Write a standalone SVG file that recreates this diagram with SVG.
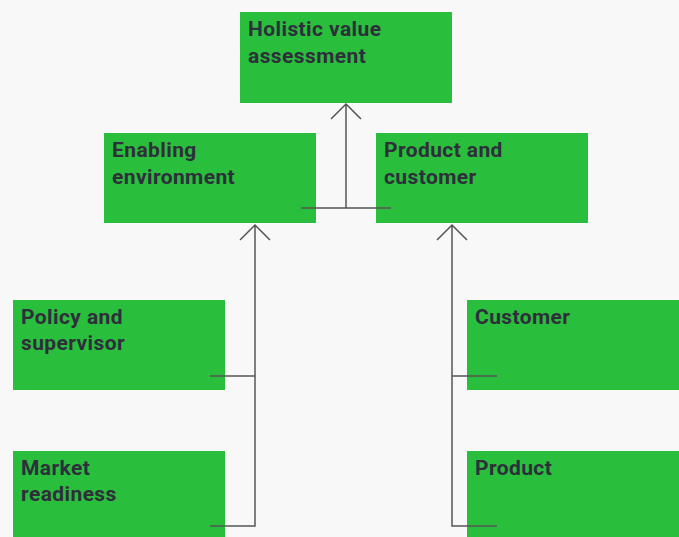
<svg xmlns="http://www.w3.org/2000/svg" width="679" height="537" viewBox="0 0 679 537">
<style>
.box{fill:#29be3c}
.t{font-family:Roboto,"Liberation Sans",sans-serif;font-weight:bold;font-size:21px;letter-spacing:0.4px;fill:#2f2f3b}
.c{stroke:#555;stroke-width:1.5;fill:none}
</style>
<rect width="679" height="537" fill="#f8f8f8"/>
<g id="holistic"><rect class="box" x="240" y="12" width="212" height="91"/><text class="t" x="248" y="36">Holistic value</text><text class="t" x="248" y="63">assessment</text></g>
<g id="enabling"><rect class="box" x="104" y="133" width="212" height="90"/><text class="t" x="112" y="157">Enabling</text><text class="t" x="112" y="184">environment</text></g>
<g id="productcustomer"><rect class="box" x="376" y="133" width="212" height="90"/><text class="t" x="384" y="157">Product and</text><text class="t" x="384" y="184">customer</text></g>
<g id="policy"><rect class="box" x="13" y="300" width="212" height="90"/><text class="t" x="21" y="324">Policy and</text><text class="t" x="21" y="350">supervisor</text></g>
<g id="market"><rect class="box" x="13" y="451" width="212" height="90"/><text class="t" x="21" y="475">Market</text><text class="t" x="21" y="501">readiness</text></g>
<g id="customer"><rect class="box" x="467" y="300" width="212" height="90"/><text class="t" x="475" y="324">Customer</text></g>
<g id="product"><rect class="box" x="467" y="451" width="212" height="90"/><text class="t" x="475" y="475">Product</text></g>
<g id="connectors">
<path class="c" d="M301 208H391M346 208V104M331 119L346 104L361 119"/>
<path class="c" d="M210 376H255M210 526H255V225M240 240L255 225L270 240"/>
<path class="c" d="M497 376H452M497 526H452V225M437 240L452 225L467 240"/>
</g>
</svg>
